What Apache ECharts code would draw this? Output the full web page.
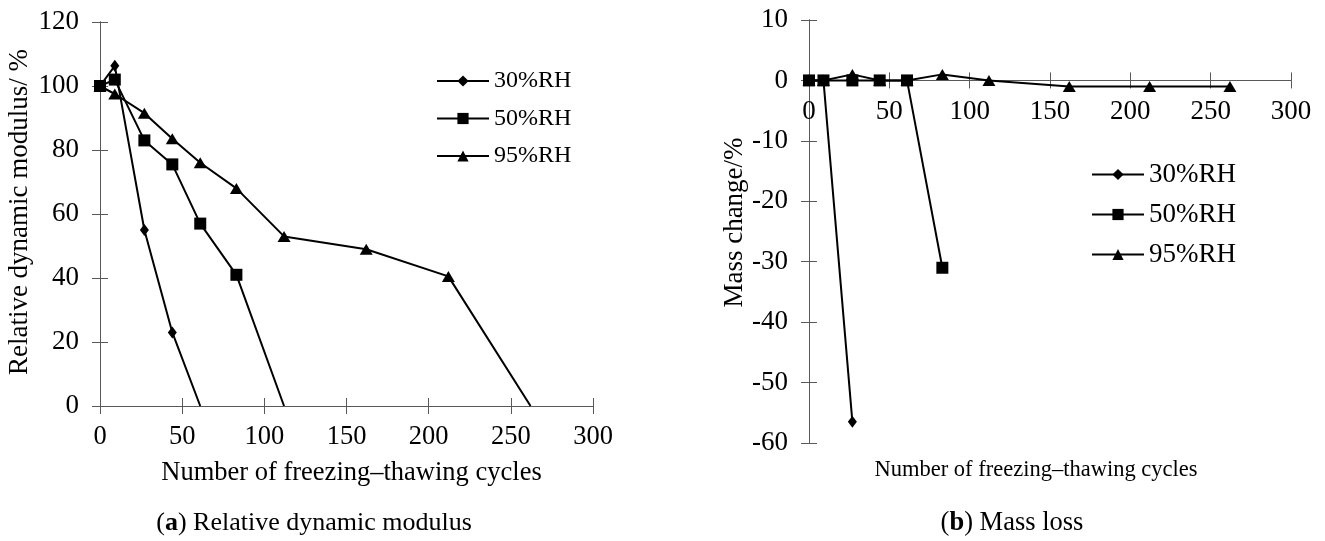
<!DOCTYPE html>
<html>
<head>
<meta charset="utf-8">
<script src="https://cdn.jsdelivr.net/npm/echarts@6/dist/echarts.min.js"></script>
<style>html,body{margin:0;padding:0;background:#fff}#c{width:1325px;height:541px}</style>
</head>
<body>
<div id="c"></div>
<script>
// ---- data ----
const seriesNames = ['30%RH', '50%RH', '95%RH'];
// (a) relative dynamic modulus, %
const rdmCycles30 = [0, 9, 27, 44, 61];
const rdm30 = [100, 106.3, 55, 23, 0];
const rdmCycles50 = [0, 9, 27, 44, 61, 83, 112];
const rdm50 = [100, 102, 83, 75.5, 57, 41, 0];
const rdmCycles95 = [0, 9, 27, 44, 61, 83, 112, 162, 212, 262];
const rdm95 = [100, 97.5, 91.5, 83.5, 76, 68, 53, 49, 40.5, 0];
// (b) mass change, %
const massCycles30 = [0, 9, 27];
const mass30 = [0, 0, -56.5];
const massCycles50 = [0, 9, 27, 44, 61, 83];
const mass50 = [0, 0, 0, 0, 0, -31];
const massCycles95 = [0, 9, 27, 44, 61, 83, 112, 162, 212, 262];
const mass95 = [0, 0, 1, 0, 0, 1, 0, -1, -1, -1];
// axis ranges
const xRange = [0, 300, 50];
const rdmRange = [0, 120, 20];
const massRange = [-60, 10, 10];

const FONT = 'Liberation Serif';
const AX = '#595959';

const G1 = { left: 100, top: 22, width: 493, height: 384 };
const G2 = { left: 809, top: 20, width: 482, height: 423 };
// right chart: x axis crosses the y axis at 0 -> shift it up from the grid bottom
const zeroShift = -G2.height * (0 - massRange[0]) / (massRange[1] - massRange[0]);

function pairs(xs, ys, hideZeroEnd) {
  return xs.map((x, i) => {
    const last = i === xs.length - 1;
    if (hideZeroEnd && last && ys[i] === 0) return { value: [x, ys[i]], symbol: 'none' };
    return [x, ys[i]];
  });
}

const symbols = {
  '30%RH': { symbol: 'diamond', symbolSize: [9, 12], z: 2 },
  '50%RH': { symbol: 'rect', symbolSize: 12, z: 4 },
  '95%RH': { symbol: 'triangle', symbolSize: [13, 11], z: 3 }
};

function mkSeries(name, xi, yi, data) {
  return {
    type: 'line', name, xAxisIndex: xi, yAxisIndex: yi, data,
    symbol: symbols[name].symbol, symbolSize: symbols[name].symbolSize, z: symbols[name].z,
    showAllSymbol: true, animation: false,
    lineStyle: { color: '#000', width: 2 }, itemStyle: { color: '#000' }
  };
}

function xAxisPair(grid, labelMargin, fs, offset, name) {
  const base = {
    type: 'value', gridIndex: grid, min: xRange[0], max: xRange[1], interval: xRange[2], position: 'bottom',
    offset, splitLine: { show: false },
    axisLine: { show: true, onZero: false, lineStyle: { color: AX, width: 1 } }
  };
  const a = Object.assign({}, base, {
    axisTick: { show: true, inside: false, length: 8, lineStyle: { color: AX } },
    axisLabel: { show: true, margin: labelMargin, fontFamily: FONT, fontSize: fs, color: '#000' }
  });
  if (name) Object.assign(a, {
    name, nameLocation: 'middle', nameGap: 54,
    nameTextStyle: { fontFamily: FONT, fontSize: fs, color: '#000', padding: [0, 0, 0, 10] }
  });
  const b = Object.assign({}, base, {
    axisTick: { show: true, inside: true, length: 8, lineStyle: { color: AX } },
    axisLabel: { show: false }
  });
  return [a, b];
}

function yAxisPair(grid, range, name, nameGap, fs, shiftPad) {
  const base = {
    type: 'value', gridIndex: grid, min: range[0], max: range[1], interval: range[2], position: 'left',
    splitLine: { show: false },
    axisLine: { show: true, onZero: false, lineStyle: { color: AX, width: 1 } }
  };
  const a = Object.assign({}, base, {
    axisTick: { show: true, inside: false, length: 8, lineStyle: { color: AX } },
    axisLabel: { show: true, margin: 21, fontFamily: FONT, fontSize: fs, color: '#000' },
    name, nameLocation: 'middle', nameGap, nameRotate: 90,
    nameTextStyle: { fontFamily: FONT, fontSize: fs, color: '#000', padding: [0, 0, 0, shiftPad] }
  });
  const b = Object.assign({}, base, {
    axisTick: { show: true, inside: true, length: 8, lineStyle: { color: AX } },
    axisLabel: { show: false }
  });
  return [a, b];
}

const xa = xAxisPair(0, 18, 26.5, 0, 'Number of freezing\u2013thawing cycles')
  .concat(xAxisPair(1, 18, 27, zeroShift, null));
const ya = yAxisPair(0, rdmRange, 'Relative dynamic modulus/ %', 67, 27, 4)
  .concat(yAxisPair(1, massRange, 'Mass change/%', 56, 27, 18));

const chart = echarts.init(document.getElementById('c'), null, { renderer: 'canvas' });
chart.setOption({
  animation: false,
  grid: [G1, G2],
  xAxis: xa,
  yAxis: ya,
  legend: [
    { orient: 'vertical', left: 431, top: 64, itemWidth: 52, itemHeight: 14, itemGap: 13.5,
      textStyle: { fontFamily: FONT, fontSize: 24, color: '#000' }, data: seriesNames, selectedMode: false },
    { orient: 'vertical', left: 1086, top: 156, itemWidth: 52, itemHeight: 14, itemGap: 13,
      textStyle: { fontFamily: FONT, fontSize: 27, color: '#000' }, data: seriesNames, selectedMode: false }
  ],
  graphic: [
    { type: 'text', x: 1036, y: 470, style: { text: 'Number of freezing\u2013thawing cycles', fontFamily: FONT, fontSize: 22.5, fill: '#000', align: 'center', verticalAlign: 'middle' } },
    { type: 'text', x: 314, y: 523, style: { text: '({b|a}) Relative dynamic modulus', fontFamily: FONT, fontSize: 26, fill: '#000', align: 'center', verticalAlign: 'middle',
      rich: { b: { fontWeight: 'bold', fontFamily: FONT, fontSize: 26, fill: '#000' } } } },
    { type: 'text', x: 1012, y: 523, style: { text: '({b|b}) Mass loss', fontFamily: FONT, fontSize: 26.5, fill: '#000', align: 'center', verticalAlign: 'middle',
      rich: { b: { fontWeight: 'bold', fontFamily: FONT, fontSize: 26.5, fill: '#000' } } } }
  ],
  series: [
    mkSeries('30%RH', 0, 0, pairs(rdmCycles30, rdm30, true)),
    mkSeries('50%RH', 0, 0, pairs(rdmCycles50, rdm50, true)),
    mkSeries('95%RH', 0, 0, pairs(rdmCycles95, rdm95, true)),
    mkSeries('30%RH', 2, 2, pairs(massCycles30, mass30, false)),
    mkSeries('50%RH', 2, 2, pairs(massCycles50, mass50, false)),
    mkSeries('95%RH', 2, 2, pairs(massCycles95, mass95, false))
  ]
});
</script>
</body>
</html>
